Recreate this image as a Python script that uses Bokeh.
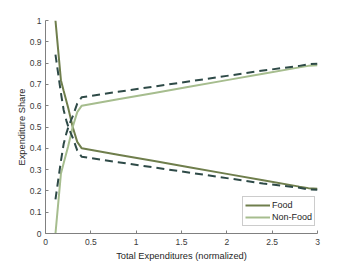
from bokeh.plotting import figure
from bokeh.models import FixedTicker, Legend, LegendItem, Range1d
from bokeh.embed import file_html
from bokeh.resources import INLINE

# Model (solid) curves
x_model = [0.11, 0.14, 0.17, 0.20, 0.25, 0.30, 0.35, 0.40, 0.80, 1.20, 1.60, 2.00, 2.40, 2.80, 2.90, 3.00]
food_model = [1.00, 0.86, 0.72, 0.67, 0.59, 0.50, 0.43, 0.40, 0.37, 0.34, 0.31, 0.28, 0.25, 0.22, 0.213, 0.21]
nonfood_model = [0.00, 0.14, 0.28, 0.33, 0.41, 0.50, 0.57, 0.60, 0.63, 0.66, 0.69, 0.72, 0.75, 0.78, 0.787, 0.79]

# Dashed curves
x_dash = [0.11, 0.14, 0.17, 0.20, 0.23, 0.26, 0.30, 0.35, 0.40, 0.80, 1.20, 1.60, 2.00, 2.40, 2.80, 2.90, 3.00]
food_dash = [0.84, 0.75, 0.66, 0.58, 0.53, 0.49, 0.45, 0.39, 0.36, 0.335, 0.31, 0.285, 0.26, 0.235, 0.215, 0.207, 0.205]
nonfood_dash = [0.16, 0.25, 0.34, 0.42, 0.47, 0.51, 0.55, 0.61, 0.64, 0.665, 0.69, 0.715, 0.74, 0.765, 0.787, 0.795, 0.797]

x_ticks = [0, 0.5, 1, 1.5, 2, 2.5, 3]
x_tick_labels = ["0", "0.5", "1", "1.5", "2", "2.5", "3"]
y_ticks = [0, 0.1, 0.2, 0.3, 0.4, 0.5, 0.6, 0.7, 0.8, 0.9, 1.0]
y_tick_labels = ["0", "0.1", "0.2", "0.3", "0.4", "0.5", "0.6", "0.7", "0.8", "0.9", "1"]

legend_labels = ["Food", "Non-Food"]

FONT = "Liberation Sans"
C_FOOD = "#6f7e4c"
C_NONFOOD = "#a6bd8e"
C_DASH = "#2e4a47"

p = figure(width=351, height=263, output_backend="svg", toolbar_location=None,
           x_range=Range1d(0, 3), y_range=Range1d(0, 1),
           min_border_left=45, min_border_right=34, min_border_top=20, min_border_bottom=29)
p.outline_line_color = None
p.xgrid.visible = False
p.ygrid.visible = False
p.background_fill_color = "white"
p.border_fill_color = "white"

r_food = p.line(x_model, food_model, line_color=C_FOOD, line_width=2)
r_nonfood = p.line(x_model, nonfood_model, line_color=C_NONFOOD, line_width=2)
p.line(x_dash, food_dash, line_color=C_DASH, line_width=2, line_dash="8 5")
p.line(x_dash, nonfood_dash, line_color=C_DASH, line_width=2, line_dash="8 5")

for ax, ticks, labels in ((p.xaxis[0], x_ticks, x_tick_labels), (p.yaxis[0], y_ticks, y_tick_labels)):
    ax.ticker = FixedTicker(ticks=ticks)
    ax.major_label_overrides = {t: l for t, l in zip(ticks, labels)}
    ax.major_tick_in = 3
    ax.major_tick_out = 0
    ax.minor_tick_line_color = None
    ax.axis_line_color = "#808080"
    ax.major_tick_line_color = "#808080"
    ax.major_label_text_font = FONT
    ax.major_label_text_font_size = "8.5px"
    ax.major_label_text_color = "#3a3a3a"
    ax.axis_label_text_font = FONT
    ax.axis_label_text_font_size = "9.3px"
    ax.axis_label_text_font_style = "normal"
    ax.axis_label_text_color = "#262626"
    ax.major_label_standoff = 4
    ax.axis_label_standoff = 0

p.xaxis.axis_label = "Total Expenditures (normalized)"
p.yaxis.axis_label = "Expenditure Share"
p.xaxis.major_label_standoff = 5
p.xaxis.axis_label_standoff = 3

legend = Legend(items=[LegendItem(label=legend_labels[0], renderers=[r_food]),
                       LegendItem(label=legend_labels[1], renderers=[r_nonfood])],
                location=(197, 7), margin=0, padding=2, spacing=0,
                glyph_width=25, glyph_height=12, label_height=12, label_standoff=2,
                label_text_font=FONT, label_text_font_size="9px", label_text_color="#262626",
                border_line_color="#9a9a9a", border_line_width=1,
                background_fill_color="white", background_fill_alpha=1)
p.add_layout(legend, "center")

open("out.html", "w").write(file_html(p, INLINE))
